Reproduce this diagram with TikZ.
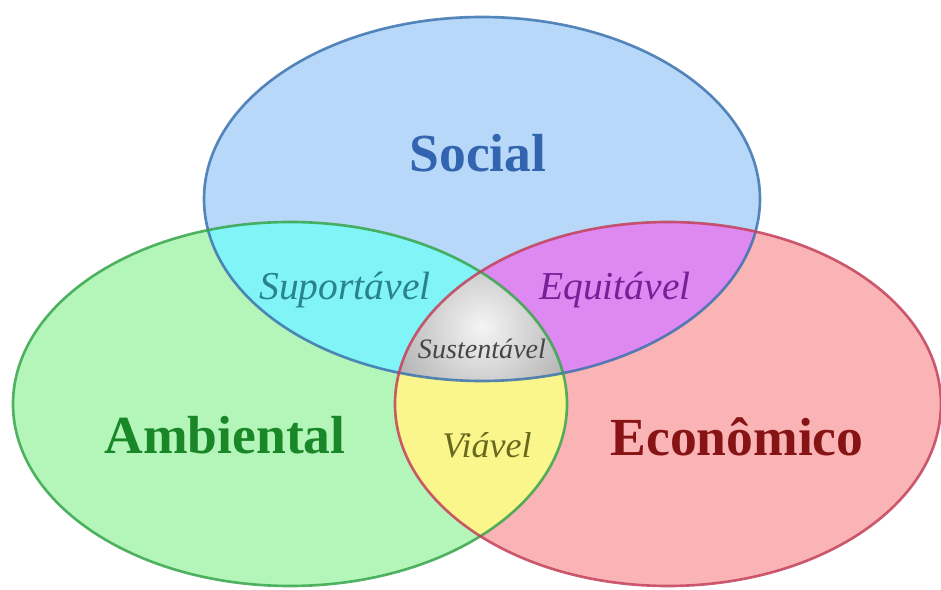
\documentclass[tikz,border=0pt]{standalone}
\usepackage{fontspec}
\setmainfont{Liberation Serif}

\definecolor{socialfill}{RGB}{183,216,248}
\definecolor{ambfill}{RGB}{180,246,185}
\definecolor{ecofill}{RGB}{250,180,182}
\definecolor{suportfill}{RGB}{128,244,246}
\definecolor{equitfill}{RGB}{222,136,242}
\definecolor{viavfill}{RGB}{250,246,140}
\definecolor{socialline}{RGB}{60,115,175}
\definecolor{ambline}{RGB}{55,165,75}
\definecolor{ecoline}{RGB}{195,65,90}
\definecolor{socialtext}{RGB}{50,100,175}
\definecolor{ambtext}{RGB}{25,135,40}
\definecolor{ecotext}{RGB}{135,20,20}
\definecolor{suporttext}{RGB}{40,130,145}
\definecolor{equittext}{RGB}{120,30,150}
\definecolor{viavtext}{RGB}{105,105,30}
\definecolor{sustext}{RGB}{70,70,70}

\begin{document}
\begin{tikzpicture}[x=0.02cm,y=0.02cm,
    rim/.style={line width=1.5pt,draw opacity=0.85},
    big/.style={font=\bfseries\fontsize{30.5}{34}\selectfont},
    part/.style={font=\itshape\fontsize{22.5}{26}\selectfont}]
    \useasboundingbox (0,0) rectangle (941,589);
    \def\social{(482,390) ellipse [x radius=278, y radius=182]}
    \def\ambiental{(290,185) ellipse [x radius=277, y radius=182]}
    \def\economico{(668,185) ellipse [x radius=273, y radius=182]}
    % circles
    \fill[socialfill] \social;
    \fill[ambfill] \ambiental;
    \fill[ecofill] \economico;
    % overlaps
    \begin{scope}
        \clip \social;
        \fill[suportfill] \ambiental;
        \fill[equitfill] \economico;
    \end{scope}
    \begin{scope}
        \clip \ambiental;
        \fill[viavfill] \economico;
        \clip \economico;
        \clip \social;
        \shade[inner color=gray!8,outer color=gray!60] (482,262) circle [radius=95];
    \end{scope}
    \draw[rim,socialline] \social;
    \draw[rim,ambline] \ambiental;
    \draw[rim,ecoline] \economico;
    % labels
    \node[big,text=socialtext] (social) at (478,436) {Social};
    \node[big,text=ambtext] (amb) at (225,154) {Ambiental};
    \node[big,text=ecotext] (eco) at (737,152) {Econômico};
    \node[part,text=suporttext] (suport) at (345,299) {Suportável};
    \node[part,text=equittext] (equit) at (615,299) {Equitável};
    \node[part,text=viavtext,font=\itshape\fontsize{20.5}{24}\selectfont] (viav) at (487,144) {Viável};
    \node[part,text=sustext,font=\itshape\fontsize{16}{18}\selectfont] (sust) at (482,240) {Sustentável};
\end{tikzpicture}
\end{document}
